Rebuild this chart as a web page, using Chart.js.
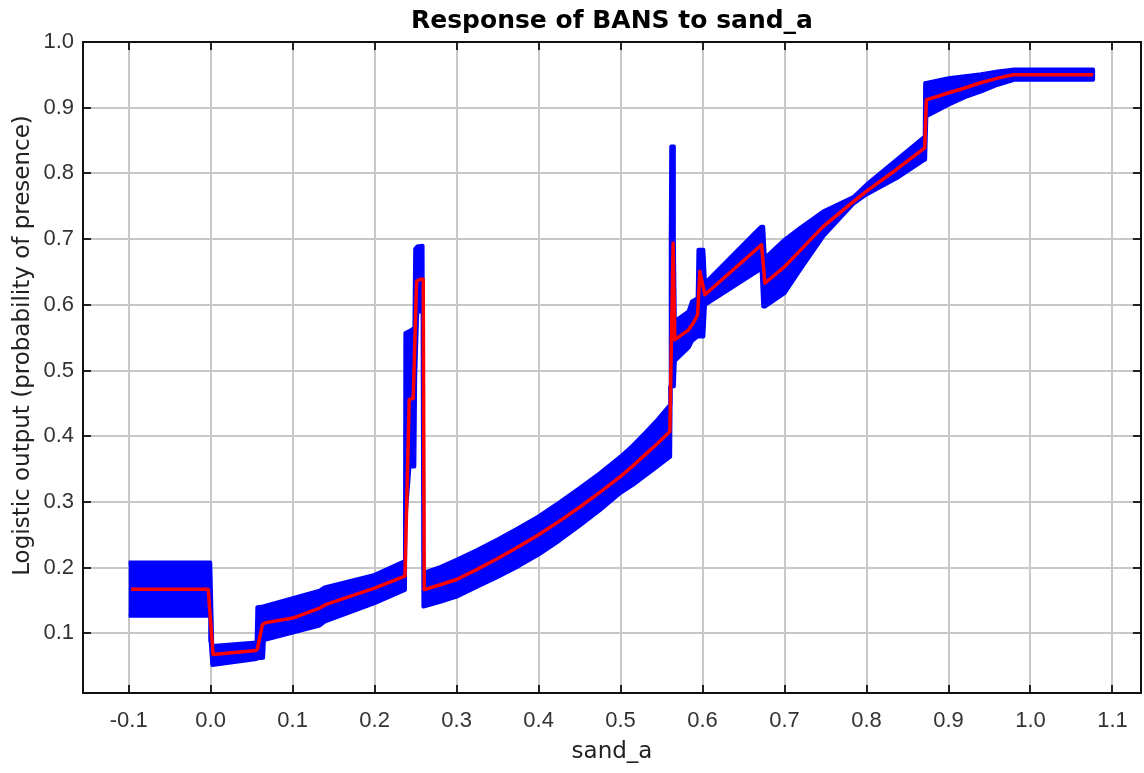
<!DOCTYPE html>
<html lang="en">
<head>
    <meta charset="UTF-8">
    <title>Response of BANS to sand_a</title>
    <script src="https://cdn.jsdelivr.net/npm/chart.js"></script>
    <style>
        body {
            margin: 0;
            padding: 0;
            background-color: #ffffff;
        }
        .chart-box {
            width: 1144px;
            height: 773px;
        }
    </style>
</head>
<body>
    <div class="chart-box">
        <canvas id="responseChart" width="1144" height="773"></canvas>
    </div>

    <script>
        // mean response (red line)
        const meanX = [-0.097, -0.003, 0.003, 0.055, 0.057, 0.063, 0.066, 0.100, 0.133, 0.140, 0.200, 0.237,
            0.2422, 0.2471, 0.2512, 0.2552, 0.2593, 0.2605, 0.280, 0.300, 0.325, 0.350, 0.375, 0.400,
            0.425, 0.450, 0.475, 0.500, 0.515, 0.530, 0.545, 0.5601, 0.5641, 0.5662, 0.583, 0.590,
            0.594, 0.5967, 0.6028, 0.672, 0.676, 0.700, 0.720, 0.747, 0.775, 0.800, 0.8366, 0.871,
            0.873, 0.8995, 0.920, 0.9382, 0.960, 0.979, 1.0764];
        const meanY = [0.167, 0.167, 0.068, 0.074, 0.076, 0.113, 0.116, 0.1234, 0.1386, 0.1437, 0.169, 0.187,
            0.4557, 0.458, 0.6357, 0.639, 0.639, 0.1665, 0.174, 0.182, 0.1975, 0.214, 0.2315, 0.250,
            0.2705, 0.292, 0.315, 0.339, 0.355, 0.372, 0.389, 0.4074, 0.694, 0.547, 0.562, 0.575,
            0.585, 0.651, 0.6154, 0.6915, 0.633, 0.658, 0.684, 0.719, 0.748, 0.773, 0.806, 0.839,
            0.912, 0.9224, 0.930, 0.9376, 0.945, 0.9502, 0.9502];

        // mean +/- one std dev (blue band)
        const bandX = [-0.100, -0.0005, 0.000, 0.002, 0.056, 0.057, 0.064, 0.065, 0.133, 0.139, 0.200, 0.237,
            0.2375, 0.2425, 0.2485, 0.2495, 0.252, 0.2585, 0.2595, 0.280, 0.300, 0.325, 0.350, 0.375,
            0.400, 0.425, 0.450, 0.475, 0.500, 0.515, 0.530, 0.545, 0.5605, 0.5612, 0.5618, 0.5645,
            0.565, 0.5662, 0.583, 0.587, 0.594, 0.595, 0.601, 0.603, 0.669, 0.672, 0.674, 0.676,
            0.700, 0.720, 0.747, 0.784, 0.800, 0.837, 0.871, 0.8715, 0.873, 0.900, 0.920, 0.940,
            0.960, 0.980, 1.0764];
        const bandHi = [0.208, 0.208, 0.208, 0.081, 0.086, 0.140, 0.141, 0.141, 0.165, 0.170, 0.189, 0.210,
            0.557, 0.560, 0.565, 0.685, 0.689, 0.690, 0.192, 0.201, 0.212, 0.227, 0.243, 0.260,
            0.278, 0.299, 0.321, 0.344, 0.369, 0.386, 0.405, 0.425, 0.448, 0.700, 0.841, 0.841,
            0.700, 0.575, 0.590, 0.605, 0.610, 0.684, 0.684, 0.633, 0.716, 0.719, 0.719, 0.671,
            0.699, 0.718, 0.742, 0.764, 0.783, 0.821, 0.856, 0.9376, 0.9376, 0.945, 0.948, 0.951,
            0.955, 0.958, 0.958];
        const bandLo = [0.127, 0.127, 0.088, 0.052, 0.061, 0.062, 0.063, 0.090, 0.112, 0.118, 0.146, 0.166,
            0.273, 0.354, 0.354, 0.490, 0.590, 0.590, 0.141, 0.148, 0.156, 0.171, 0.186, 0.202,
            0.220, 0.241, 0.264, 0.288, 0.314, 0.326, 0.340, 0.354, 0.369, 0.476, 0.476, 0.476,
            0.476, 0.515, 0.535, 0.545, 0.552, 0.552, 0.552, 0.600, 0.653, 0.653, 0.5975, 0.5975,
            0.618, 0.655, 0.704, 0.754, 0.768, 0.793, 0.821, 0.821, 0.887, 0.9046, 0.916, 0.925,
            0.935, 0.9426, 0.9426];

        // axes
        const xTickValues = [-0.1, 0.0, 0.1, 0.2, 0.3, 0.4, 0.5, 0.6, 0.7, 0.8, 0.9, 1.0, 1.1];
        const yTickValues = [0.1, 0.2, 0.3, 0.4, 0.5, 0.6, 0.7, 0.8, 0.9, 1.0];
        const xMin = -0.1557, xMax = 1.1348;
        const yMin = 0.0093, yMax = 1.0;

        const tickFont = { family: "'Liberation Sans', Arial, sans-serif", size: 22 };
        const titleFamily = "'DejaVu Sans', sans-serif";
        const yTitle = 'Logistic output (probability of presence)';

        // band outline: upper edge left->right, then lower edge right->left
        const bandShape = bandX.map((x, i) => ({ x: x, y: bandHi[i] }))
            .concat(bandX.map((x, i) => ({ x: x, y: bandLo[i] })).reverse());
        const meanLine = meanX.map((x, i) => ({ x: x, y: meanY[i] }));

        // box frame with tick marks pointing inwards, plus the y title
        const frameTicks = {
            id: 'frameTicks',
            afterDraw(chart) {
                const ctx = chart.ctx;
                const a = chart.chartArea;
                const xs = chart.scales.x, ys = chart.scales.y;
                const len = 8;
                ctx.save();
                ctx.strokeStyle = '#222222';
                ctx.lineWidth = 2;
                ctx.beginPath();
                xTickValues.forEach(v => {
                    const px = Math.round(xs.getPixelForValue(v));
                    ctx.moveTo(px, a.bottom); ctx.lineTo(px, a.bottom - len);
                    ctx.moveTo(px, a.top); ctx.lineTo(px, a.top + len);
                });
                yTickValues.forEach(v => {
                    const py = Math.round(ys.getPixelForValue(v));
                    ctx.moveTo(a.left, py); ctx.lineTo(a.left + len, py);
                    ctx.moveTo(a.right, py); ctx.lineTo(a.right - len, py);
                });
                ctx.stroke();
                ctx.strokeStyle = '#111111';
                ctx.strokeRect(a.left, a.top, a.right - a.left, a.bottom - a.top);

                // y axis title, sits a little above the middle like the original
                ctx.translate(23, (a.top + a.bottom) / 2 - 22);
                ctx.rotate(-Math.PI / 2);
                ctx.font = '23px ' + titleFamily;
                ctx.fillStyle = '#222222';
                ctx.textAlign = 'center';
                ctx.textBaseline = 'middle';
                ctx.fillText(yTitle, 0, 0);
                ctx.restore();
            }
        };

        const ctx = document.getElementById('responseChart').getContext('2d');
        new Chart(ctx, {
            type: 'line',
            data: {
                datasets: [
                    {
                        label: 'mean',
                        data: meanLine,
                        borderColor: '#ff0000',
                        borderWidth: 3.5,
                        borderJoinStyle: 'round',
                        pointRadius: 0,
                        fill: false,
                        tension: 0,
                        order: 0
                    },
                    {
                        label: 'mean +/- one stddev',
                        data: bandShape,
                        borderColor: '#0000ff',
                        backgroundColor: '#0000ff',
                        borderWidth: 4,
                        borderJoinStyle: 'round',
                        pointRadius: 0,
                        fill: 'shape',
                        tension: 0,
                        order: 1
                    }
                ]
            },
            options: {
                responsive: false,
                animation: false,
                devicePixelRatio: 1,
                layout: { padding: { left: 0, right: 3, top: 0, bottom: 0 } },
                plugins: {
                    legend: { display: false },
                    tooltip: { enabled: false },
                    title: {
                        display: true,
                        text: 'Response of BANS to sand_a',
                        color: '#000000',
                        fullSize: false,
                        font: { family: titleFamily, size: 25, weight: 'bold', lineHeight: 1.2 },
                        padding: { top: 6, bottom: 6 }
                    }
                },
                scales: {
                    x: {
                        type: 'linear',
                        min: xMin,
                        max: xMax,
                        afterBuildTicks: scale => { scale.ticks = xTickValues.map(v => ({ value: v })); },
                        afterFit: scale => { scale.height = 80; },
                        border: { display: false },
                        grid: { color: '#c8c8c8', lineWidth: 2, drawTicks: false },
                        ticks: {
                            font: tickFont,
                            color: '#333333',
                            padding: 15,
                            maxRotation: 0,
                            autoSkip: false,
                            callback: v => v.toFixed(1)
                        },
                        title: {
                            display: true,
                            text: 'sand_a',
                            color: '#222222',
                            font: { family: titleFamily, size: 23 },
                            padding: { top: 0, bottom: 7 }
                        }
                    },
                    y: {
                        type: 'linear',
                        min: yMin,
                        max: yMax,
                        afterBuildTicks: scale => { scale.ticks = yTickValues.map(v => ({ value: v })); },
                        afterFit: scale => { scale.width = 83; },
                        border: { display: false },
                        grid: { color: '#c8c8c8', lineWidth: 2, drawTicks: false },
                        ticks: {
                            font: tickFont,
                            color: '#333333',
                            padding: 9,
                            autoSkip: false,
                            callback: v => v.toFixed(1)
                        },
                        title: { display: false }
                    }
                }
            },
            plugins: [frameTicks]
        });
    </script>
</body>
</html>
